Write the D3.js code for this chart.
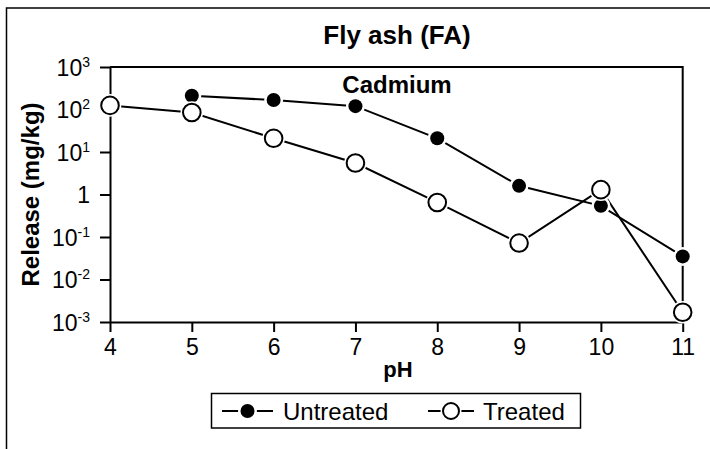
<!DOCTYPE html>
<html>
<head>
<meta charset="utf-8">
<script src="https://cdn.jsdelivr.net/npm/d3@7"></script>
<style>
  body { margin: 0; background: #fff; }
  svg text { font-family: Arial, "Liberation Sans", sans-serif; fill: #000; }
</style>
</head>
<body>
<div id="chart"></div>
<script>
// data (cadmium release vs pH)
var phUntreated = [5, 6, 7, 8, 9, 10, 11];
var relUntreated = [210, 167, 120, 21, 1.6, 0.54, 0.035];
var phTreated = [4, 5, 6, 7, 8, 9, 10, 11];
var relTreated = [125, 85, 21, 5.5, 0.65, 0.072, 1.3, 0.0017];
var xTicks = [4, 5, 6, 7, 8, 9, 10, 11];
var yTicks = [1e-3, 1e-2, 1e-1, 1, 1e1, 1e2, 1e3];
var yTickExp = [-3, -2, -1, 0, 1, 2, 3];

var width = 710, height = 449;
var pLeft = 110, pRight = 682.7, pTop = 67, pBottom = 322;

var svg = d3.select("#chart").append("svg")
    .attr("width", width)
    .attr("height", height);

// outer frame (only left and top edges show)
svg.append("path")
    .attr("d", "M6.5," + height + "V8H" + width)
    .attr("fill", "none")
    .attr("stroke", "#000")
    .attr("stroke-width", 1.5);

var x = d3.scaleLinear().domain([4, 11]).range([pLeft, pRight]);
var y = d3.scaleLog().domain([1e-3, 1e3]).range([pBottom, pTop]);

// plot box: top and right edges
svg.append("path")
    .attr("d", "M" + pLeft + "," + pTop + "H" + pRight + "V" + pBottom)
    .attr("fill", "none")
    .attr("stroke", "#000")
    .attr("stroke-width", 2);

var xAxis = svg.append("g")
    .attr("transform", "translate(0," + pBottom + ")")
    .call(d3.axisBottom(x).tickValues(xTicks).tickFormat(d3.format("d"))
        .tickSizeInner(10).tickSizeOuter(0).tickPadding(7));

var yAxis = svg.append("g")
    .attr("transform", "translate(" + pLeft + ",0)")
    .call(d3.axisLeft(y).tickValues(yTicks).tickSizeInner(10).tickSizeOuter(0).tickFormat(""));

[xAxis, yAxis].forEach(function (a) {
    a.select(".domain").attr("stroke", "#000").attr("stroke-width", 2);
    a.selectAll(".tick line").attr("stroke", "#000").attr("stroke-width", 2);
});
xAxis.selectAll(".tick text")
    .style("font-size", "23px")
    .style("font-family", "Arial, 'Liberation Sans', sans-serif")
    .attr("fill", "#000");

// y tick labels as 10^n with superscripts
yTicks.forEach(function (v, i) {
    var t = svg.append("text")
        .attr("x", 90)
        .attr("y", y(v) + 8.5)
        .attr("text-anchor", "end")
        .style("font-size", "23px");
    if (yTickExp[i] === 0) {
        t.text("1");
    } else {
        t.append("tspan").text("10");
        t.append("tspan")
            .attr("dy", -9)
            .style("font-size", "14px")
            .text(yTickExp[i]);
    }
});

// titles
svg.append("text")
    .attr("x", 397).attr("y", 44)
    .attr("text-anchor", "middle")
    .style("font-size", "26px").style("font-weight", "bold")
    .text("Fly ash (FA)");

svg.append("text")
    .attr("x", 397).attr("y", 93)
    .attr("text-anchor", "middle")
    .style("font-size", "24px").style("font-weight", "bold")
    .text("Cadmium");

svg.append("text")
    .attr("x", 398).attr("y", 377)
    .attr("text-anchor", "middle")
    .style("font-size", "22px").style("font-weight", "bold")
    .text("pH");

svg.append("text")
    .attr("transform", "translate(39," + (pTop + pBottom) / 2 + ") rotate(-90)")
    .attr("text-anchor", "middle")
    .style("font-size", "24px").style("font-weight", "bold")
    .text("Release (mg/kg)");

// series
var line = d3.line()
    .x(function (d) { return x(d[0]); })
    .y(function (d) { return y(d[1]); });

var untreated = d3.zip(phUntreated, relUntreated);
var treated = d3.zip(phTreated, relTreated);

svg.append("path").datum(untreated)
    .attr("d", line).attr("fill", "none").attr("stroke", "#000").attr("stroke-width", 2);
svg.append("path").datum(treated)
    .attr("d", line).attr("fill", "none").attr("stroke", "#000").attr("stroke-width", 2);

function markers(data, r, filled) {
    var g = svg.append("g");
    g.selectAll("circle.halo").data(data).enter().append("circle")
        .attr("class", "halo")
        .attr("cx", function (d) { return x(d[0]); })
        .attr("cy", function (d) { return y(d[1]); })
        .attr("r", r + 2.5)
        .attr("fill", "#fff");
    g.selectAll("circle.mark").data(data).enter().append("circle")
        .attr("class", "mark")
        .attr("cx", function (d) { return x(d[0]); })
        .attr("cy", function (d) { return y(d[1]); })
        .attr("r", r)
        .attr("fill", filled ? "#000" : "#fff")
        .attr("stroke", "#000")
        .attr("stroke-width", filled ? 0 : 2);
}
markers(untreated, 7, true);
markers(treated, 8.8, false);

// legend
var leg = svg.append("g");
leg.append("rect")
    .attr("x", 211.5).attr("y", 393.5)
    .attr("width", 369).attr("height", 34.5)
    .attr("fill", "#fff").attr("stroke", "#000").attr("stroke-width", 1.5);

var legItems = [
    { name: "Untreated", x0: 222, x1: 273, cx: 247.5, tx: 283, r: 7, filled: true },
    { name: "Treated", x0: 428, x1: 474, cx: 451, tx: 483, r: 8, filled: false }
];
var ly = 411;
legItems.forEach(function (d) {
    leg.append("line")
        .attr("x1", d.x0).attr("x2", d.x1).attr("y1", ly).attr("y2", ly)
        .attr("stroke", "#000").attr("stroke-width", 2);
    leg.append("circle").attr("cx", d.cx).attr("cy", ly).attr("r", d.r + 2.5).attr("fill", "#fff");
    leg.append("circle").attr("cx", d.cx).attr("cy", ly).attr("r", d.r)
        .attr("fill", d.filled ? "#000" : "#fff")
        .attr("stroke", "#000").attr("stroke-width", d.filled ? 0 : 2);
    leg.append("text")
        .attr("x", d.tx).attr("y", ly + 8.5)
        .style("font-size", "24px")
        .text(d.name);
});
</script>
</body>
</html>
